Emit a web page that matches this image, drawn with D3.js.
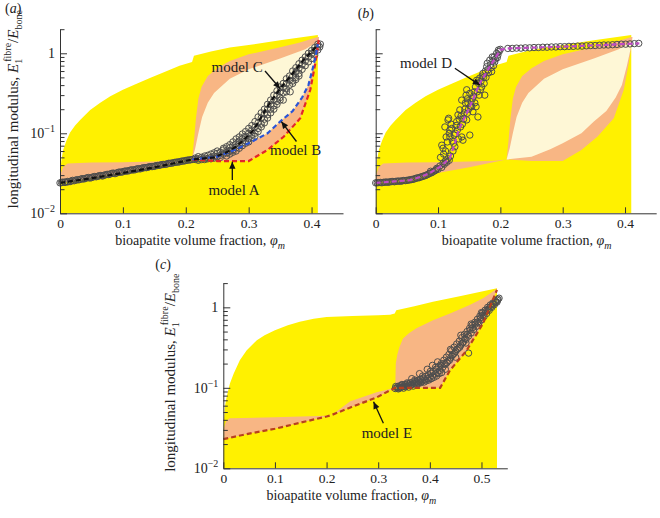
<!DOCTYPE html>
<html><head><meta charset="utf-8">
<script src="https://cdn.jsdelivr.net/npm/d3@7"></script>
<style>
body{margin:0;background:#fff}
svg{display:block}
text{font-family:"Liberation Serif","Times New Roman",serif;fill:#222}
</style>
</head><body>
<svg id="chart" width="660" height="518"></svg>
<script>
// ---------------- DATA ----------------
const xTicksAB = [0, 0.1, 0.2, 0.3, 0.4];
const xTicksC = [0, 0.1, 0.2, 0.3, 0.4, 0.5];
const yMajor = [0.01, 0.1, 1];
const yMajorLabels = [["10", "\u22122"], ["10", "\u22121"], ["1", ""]];
const yMinor = [0.02,0.03,0.04,0.05,0.06,0.07,0.08,0.09,0.2,0.3,0.4,0.5,0.6,0.7,0.8,0.9,2];

// panels (a),(b): bound regions
const yellowTopAB = [[0,0.03],[0.002,0.045],[0.005,0.062],[0.01,0.08],[0.016,0.102],[0.024,0.125],[0.032,0.147],[0.048,0.195],[0.064,0.24],[0.08,0.29],[0.1,0.35],[0.12,0.41],[0.143,0.49],[0.17,0.6],[0.19,0.7],[0.21,0.78],[0.213,0.93],[0.24,1.05],[0.27,1.18],[0.3,1.27],[0.35,1.45],[0.41,1.69]];
const orangeLowTopAB = [[0,0.03],[0.005,0.038],[0.012,0.042],[0.05,0.043],[0.1,0.0435],[0.15,0.0445],[0.19,0.0455],[0.21,0.047]];
const orangeLowBotAB = [[0,0.024],[0.05,0.0275],[0.1,0.032],[0.15,0.0375],[0.21,0.047]];
const orangeLensTopAB = [[0.21,0.047],[0.213,0.08],[0.216,0.15],[0.22,0.27],[0.225,0.38],[0.235,0.52],[0.25,0.65],[0.27,0.8],[0.3,0.97],[0.35,1.19],[0.38,1.35],[0.41,1.6]];
const creamTopAB = [[0.21,0.047],[0.215,0.065],[0.22,0.1],[0.226,0.16],[0.235,0.24],[0.245,0.32],[0.27,0.48],[0.3,0.63],[0.35,0.86],[0.39,1.12],[0.41,1.4]];
const modelA = [[0.21,0.047],[0.25,0.045],[0.3,0.045],[0.33,0.062],[0.356,0.091],[0.382,0.154],[0.398,0.35],[0.406,0.75],[0.41,1.2],[0.412,1.6]];
const modelB = [[0.21,0.047],[0.25,0.051],[0.28,0.063],[0.3,0.075],[0.33,0.1],[0.35,0.14],[0.37,0.19],[0.385,0.28],[0.395,0.4],[0.403,0.7],[0.408,1.05],[0.41,1.3]];
const modelC = [[0,0.024],[0.05,0.0275],[0.1,0.032],[0.15,0.0375],[0.21,0.047],[0.245,0.05],[0.265,0.058],[0.28,0.068],[0.295,0.087],[0.308,0.11],[0.32,0.16],[0.335,0.25],[0.35,0.36],[0.37,0.56],[0.387,0.82],[0.41,1.27]];
const modelD = [[0,0.024],[0.03,0.025],[0.055,0.026],[0.075,0.029],[0.087,0.032],[0.103,0.038],[0.119,0.049],[0.127,0.075],[0.133,0.11],[0.151,0.215],[0.167,0.42],[0.183,0.68],[0.2,1.1],[0.21,1.15],[0.3,1.21],[0.423,1.33]];

const pointsA = [[0,0.024],[0.004,0.0245],[0.008,0.0243],[0.012,0.025],[0.016,0.0249],[0.02,0.0258],[0.025,0.026],[0.03,0.0262],[0.035,0.0271],[0.04,0.0272],[0.045,0.028],[0.05,0.0279],[0.055,0.0288],[0.06,0.029],[0.065,0.0297],[0.07,0.0299],[0.075,0.0307],[0.08,0.031],[0.085,0.0318],[0.09,0.0319],[0.095,0.0328],[0.1,0.0331],[0.105,0.0338],[0.11,0.0342],[0.115,0.0349],[0.12,0.0352],[0.125,0.0361],[0.13,0.0365],[0.135,0.0372],[0.14,0.0377],[0.145,0.0384],[0.15,0.0386],[0.155,0.0396],[0.16,0.0402],[0.165,0.0408],[0.17,0.0413],[0.175,0.0422],[0.18,0.0428],[0.185,0.0436],[0.19,0.044],[0.195,0.045],[0.2,0.0457],[0.205,0.0463],[0.21,0.047],
[0.0025,0.0242],[0.0075,0.0246],[0.0125,0.0247],[0.0175,0.0253],[0.0225,0.0255],[0.0275,0.0263],[0.0325,0.0266],[0.0375,0.0268],[0.0425,0.0277],[0.0475,0.0276],[0.0525,0.0285],[0.0575,0.0286],[0.0625,0.0295],[0.0675,0.0292],[0.0725,0.0303],[0.0775,0.0305],[0.0825,0.0316],[0.0875,0.0313],[0.0925,0.0325],[0.0975,0.0326],[0.1025,0.0336],[0.1075,0.0337],[0.1125,0.0348],[0.1175,0.0348],[0.1225,0.0359],[0.1275,0.0359],[0.1325,0.0371],[0.1375,0.0372],[0.1425,0.0383],[0.1475,0.0384],[0.1525,0.0394],[0.1575,0.0397],[0.1625,0.0407],[0.1675,0.0409],[0.1725,0.0421],[0.1775,0.0423],[0.1825,0.0433],[0.1875,0.0437],[0.1925,0.0447],[0.1975,0.0451],[0.2025,0.0462],[0.2075,0.0466],
[0.215,0.047],[0.215,0.049],[0.22,0.048],[0.22,0.051],[0.22,0.046],[0.225,0.047],[0.225,0.05],[0.23,0.049],[0.23,0.052],[0.23,0.047],[0.235,0.048],[0.235,0.053],[0.24,0.05],[0.24,0.055],[0.24,0.048],[0.245,0.052],[0.245,0.049],[0.245,0.057],[0.25,0.051],[0.25,0.056],[0.25,0.06],[0.255,0.053],[0.255,0.058],[0.255,0.05],[0.26,0.055],[0.26,0.062],[0.26,0.065],[0.265,0.057],[0.265,0.06],[0.265,0.068],[0.265,0.052],[0.27,0.06],[0.27,0.066],[0.27,0.072],[0.27,0.055],[0.275,0.062],[0.275,0.07],[0.275,0.078],[0.275,0.058],[0.28,0.066],[0.28,0.074],[0.28,0.085],[0.28,0.06],[0.285,0.07],[0.285,0.08],[0.285,0.09],[0.285,0.065],[0.29,0.076],[0.29,0.086],[0.29,0.098],[0.29,0.07],[0.295,0.08],[0.295,0.092],[0.295,0.105],[0.295,0.075],[0.3,0.085],[0.3,0.1],[0.3,0.115],[0.3,0.078],[0.305,0.095],[0.305,0.11],[0.305,0.125],[0.305,0.088],[0.31,0.1],[0.31,0.12],[0.31,0.14],[0.31,0.092],[0.315,0.115],[0.315,0.135],[0.315,0.16],[0.315,0.105],[0.32,0.13],[0.32,0.155],[0.32,0.18],[0.32,0.12],[0.325,0.15],[0.325,0.175],[0.325,0.2],[0.325,0.135],[0.33,0.17],[0.33,0.2],[0.33,0.23],[0.33,0.155],[0.335,0.2],[0.335,0.23],[0.335,0.26],[0.335,0.18],[0.34,0.22],[0.34,0.26],[0.34,0.3],[0.34,0.2],[0.345,0.25],[0.345,0.3],[0.345,0.34],[0.345,0.23],[0.35,0.28],[0.35,0.33],[0.35,0.38],[0.35,0.26],[0.355,0.32],[0.355,0.37],[0.355,0.42],[0.355,0.26],[0.36,0.36],[0.36,0.42],[0.36,0.48],[0.36,0.33],[0.365,0.4],[0.365,0.46],[0.365,0.52],[0.366,0.33],[0.37,0.45],[0.37,0.52],[0.37,0.6],[0.37,0.42],[0.375,0.5],[0.375,0.58],[0.375,0.66],[0.375,0.47],[0.38,0.56],[0.38,0.65],[0.38,0.74],[0.38,0.52],[0.385,0.63],[0.385,0.72],[0.385,0.82],[0.39,0.7],[0.39,0.8],[0.39,0.9],[0.395,0.78],[0.395,0.9],[0.395,1.0],[0.4,0.86],[0.4,0.98],[0.4,1.08],[0.405,0.95],[0.405,1.08],[0.405,1.18],[0.41,1.1],[0.41,1.22],[0.41,1.3],[0.413,1.2],[0.414,1.3]];

const pointsB = [[0,0.024],[0.005,0.0242],[0.01,0.0241],[0.015,0.0245],[0.02,0.0244],[0.025,0.0249],[0.03,0.0248],[0.035,0.0252],[0.04,0.0251],[0.045,0.0257],[0.05,0.0258],[0.055,0.0262],[0.06,0.0266],[0.065,0.0275],[0.07,0.0279],[0.075,0.0288],[0.08,0.0297],[0.085,0.031],[0.088,0.0335],[0.09,0.0322],[0.095,0.034],[0.098,0.0365],[0.1,0.0355],[0.103,0.039],[0.106,0.0375],[0.108,0.042],[0.11,0.041],[0.112,0.045],[0.114,0.0435],[0.116,0.048],[0.118,0.046],[0.12,0.052],
[0.0025,0.0241],[0.0075,0.0243],[0.0125,0.0244],[0.0175,0.0246],[0.0225,0.0247],[0.0275,0.025],[0.0325,0.0251],[0.0375,0.0253],[0.0425,0.0255],[0.0475,0.0256],[0.0525,0.026],[0.0575,0.0264],[0.0625,0.027],[0.0675,0.0277],[0.0725,0.0285],[0.0775,0.0293],[0.0825,0.0303],[0.0875,0.0318],[0.0925,0.0333],[0.0965,0.035],
[0.106,0.071],[0.108,0.065],[0.111,0.12],[0.113,0.09],[0.116,0.147],[0.117,0.154],[0.119,0.09],[0.119,0.11],[0.122,0.115],[0.124,0.06],[0.125,0.075],[0.127,0.068],[0.128,0.1],[0.13,0.14],[0.132,0.17],[0.133,0.085],[0.135,0.196],[0.136,0.12],[0.138,0.26],[0.138,0.09],[0.14,0.082],[0.141,0.15],[0.143,0.2],[0.145,0.3],[0.146,0.35],[0.147,0.178],[0.146,0.147],[0.148,0.24],[0.151,0.095],[0.151,0.316],[0.152,0.22],[0.154,0.215],[0.155,0.27],[0.156,0.186],[0.158,0.33],[0.16,0.38],[0.161,0.215],[0.162,0.46],[0.164,0.16],[0.165,0.42],[0.167,0.49],[0.168,0.35],[0.17,0.38],[0.172,0.56],[0.173,0.5],[0.175,0.3],[0.176,0.6],[0.178,0.68],[0.18,0.62],[0.183,0.82],[0.184,0.72],[0.186,0.59],[0.188,0.8],[0.19,0.9],[0.192,0.85],[0.194,1.0],[0.196,0.95],[0.198,1.05],[0.2,1.12],
[0.104,0.05],[0.109,0.055],[0.112,0.06],[0.115,0.078],[0.118,0.1],[0.121,0.13],[0.123,0.08],[0.126,0.095],[0.129,0.125],[0.131,0.11],[0.134,0.15],[0.137,0.165],[0.139,0.13],[0.142,0.18],[0.144,0.24],[0.147,0.27],[0.149,0.2],[0.153,0.25],[0.157,0.29],[0.159,0.24],[0.163,0.33],[0.166,0.3],[0.169,0.45],[0.171,0.52],[0.174,0.42],[0.177,0.5],[0.179,0.75],[0.181,0.57],[0.185,0.66],[0.187,0.9],[0.189,0.7],[0.191,0.78],[0.195,0.88],[0.197,1.1],
[0.212,1.15],[0.219,1.15],[0.226,1.16],[0.233,1.16],[0.24,1.17],[0.247,1.17],[0.254,1.18],[0.261,1.18],[0.268,1.19],[0.275,1.19],[0.282,1.2],[0.289,1.2],[0.296,1.21],[0.303,1.21],[0.31,1.22],[0.317,1.22],[0.324,1.23],[0.331,1.23],[0.338,1.24],[0.345,1.25],[0.352,1.25],[0.359,1.26],[0.366,1.27],[0.373,1.27],[0.38,1.28],[0.387,1.29],[0.394,1.3],[0.401,1.3],[0.408,1.31],[0.415,1.32],[0.422,1.33]];

// panel (c)
const yellowTopC = [[0,0.03],[0.003,0.058],[0.007,0.08],[0.013,0.114],[0.02,0.15],[0.032,0.22],[0.045,0.29],[0.065,0.39],[0.08,0.45],[0.1,0.52],[0.125,0.6],[0.148,0.66],[0.175,0.72],[0.2,0.76],[0.25,0.78],[0.3,0.8],[0.323,0.81],[0.332,0.84],[0.335,0.92],[0.37,1.03],[0.406,1.17],[0.46,1.38],[0.53,1.73]];
const orangeLowTopC = [[0,0.03],[0.005,0.038],[0.012,0.042],[0.1,0.043],[0.2,0.045],[0.21,0.046],[0.246,0.068],[0.297,0.088],[0.333,0.1]];
const orangeLensTopC = [[0.333,0.1],[0.334,0.2],[0.337,0.26],[0.341,0.32],[0.348,0.41],[0.36,0.48],[0.374,0.55],[0.406,0.69],[0.439,0.84],[0.477,1.07],[0.503,1.3],[0.53,1.7]];
const modelE = [[0,0.023],[0.05,0.027],[0.1,0.031],[0.15,0.037],[0.2,0.044],[0.21,0.046],[0.246,0.057],[0.297,0.076],[0.323,0.093],[0.333,0.1],[0.38,0.1],[0.42,0.1],[0.439,0.165],[0.471,0.29],[0.503,0.63],[0.53,1.65]];
const pointsC = [[0.333,0.098],[0.336,0.1],[0.338,0.104],[0.34,0.099],[0.342,0.106],[0.345,0.102],[0.347,0.108],[0.35,0.104],[0.352,0.11],[0.355,0.106],[0.357,0.112],[0.36,0.108],[0.362,0.115],[0.365,0.11],[0.365,0.13],[0.367,0.118],[0.37,0.113],[0.372,0.12],[0.375,0.116],[0.377,0.124],[0.38,0.119],[0.38,0.15],[0.382,0.128],[0.385,0.122],[0.387,0.132],[0.39,0.126],[0.392,0.138],[0.395,0.13],[0.395,0.17],[0.397,0.145],[0.4,0.135],[0.402,0.152],[0.405,0.14],[0.405,0.19],[0.407,0.16],[0.41,0.148],[0.412,0.17],[0.415,0.155],[0.415,0.21],[0.417,0.185],[0.42,0.165],[0.422,0.2],[0.425,0.18],[0.427,0.22],[0.43,0.195],[0.43,0.17],[0.432,0.24],[0.435,0.215],[0.437,0.26],[0.44,0.235],[0.44,0.3],[0.442,0.29],[0.445,0.26],[0.447,0.32],[0.45,0.285],[0.45,0.24],[0.452,0.35],[0.455,0.31],[0.457,0.38],[0.46,0.34],[0.46,0.45],[0.462,0.42],[0.465,0.37],[0.467,0.46],[0.47,0.4],[0.47,0.36],[0.472,0.5],[0.475,0.44],[0.475,0.27],[0.477,0.55],[0.48,0.48],[0.48,0.62],[0.482,0.6],[0.485,0.53],[0.487,0.65],[0.49,0.58],[0.492,0.71],[0.495,0.64],[0.497,0.78],[0.5,0.7],[0.5,0.86],[0.502,0.85],[0.505,0.77],[0.507,0.92],[0.51,0.84],[0.512,1.0],[0.515,0.92],[0.517,1.07],[0.52,1.0],[0.522,1.13],[0.525,1.08],[0.527,1.2],[0.53,1.16],[0.532,1.26],[0.534,1.3],
[0.334,0.104],[0.339,0.097],[0.343,0.1],[0.346,0.11],[0.349,0.099],[0.353,0.103],[0.356,0.115],[0.359,0.102],[0.363,0.107],[0.368,0.105],[0.371,0.125],[0.374,0.11],[0.378,0.113],[0.383,0.116],[0.386,0.14],[0.389,0.118],[0.393,0.122],[0.398,0.125],[0.401,0.16],[0.403,0.13],[0.408,0.135],[0.411,0.18],[0.413,0.14],[0.418,0.15],[0.421,0.19],[0.423,0.155],[0.428,0.2],[0.433,0.205],[0.438,0.22],[0.443,0.25],[0.448,0.27],[0.453,0.3],[0.458,0.32],[0.463,0.36],[0.468,0.41],[0.473,0.46],[0.478,0.52],[0.483,0.56],[0.488,0.62],[0.493,0.66],[0.498,0.74],[0.503,0.8],[0.508,0.88],[0.513,0.95],[0.518,1.02],[0.523,1.1],[0.528,1.16],[0.531,1.22]];

// annotations: [label, textPhi, textV, arrowFromPhi, arrowFromV, arrowToPhi, arrowToV]
const notesA = [["model C",0.241,0.58,0.326,0.6,0.35,0.363],["model B",0.334,0.0535,0.376,0.079,0.352,0.14],["model A",0.236,0.0169,0.274,0.026,0.274,0.044]];
const notesB = [["model D",0.039,0.655,0.127,0.65,0.167,0.4]];
const notesC = [["model E",0.268,0.0238,0.31,0.0362,0.291,0.067]];

// ---------------- STYLE ----------------
const YELLOW = "#FFF100", ORANGE = "#F8B684", CREAM = "#FEF7D6";
const svg = d3.select("#chart");
const defs = svg.append("defs");
defs.append("marker").attr("id","arr").attr("viewBox","0 0 10 10").attr("refX",10).attr("refY",5)
  .attr("markerWidth",8).attr("markerHeight",7).attr("markerUnits","userSpaceOnUse").attr("orient","auto")
  .append("path").attr("d","M0,0.5 L10,5 L0,9.5 Z").attr("fill","#111");

function drawPanel(p){
  const g = svg.append("g").attr("transform",`translate(${p.left},${p.top})`);
  const x = d3.scaleLinear().domain([0,p.xmax]).range([0,p.w]);
  const y = d3.scaleLog().domain([0.01,2]).range([p.h,0]);
  const cid = "clip"+p.id;
  defs.append("clipPath").attr("id",cid).append("rect").attr("width",p.w).attr("height",p.h);
  const line = d3.line().x(d=>x(d[0])).y(d=>y(d[1]));
  const poly = (top,bot)=>line(top.concat(bot.slice().reverse()))+"Z";
  const bg = g.append("g").attr("clip-path",`url(#${cid})`);
  bg.append("path").attr("d",poly(p.yellow,[[0,0.01],[p.edge,0.01]])).attr("fill",YELLOW);
  p.orange.forEach(r=>bg.append("path").attr("d",poly(r[0],r[1])).attr("fill",ORANGE));
  p.cream.forEach(r=>bg.append("path").attr("d",poly(r[0],r[1])).attr("fill",CREAM));

  g.append("g").selectAll("circle").data(p.pts).join("circle")
    .attr("cx",d=>x(d[0])).attr("cy",d=>y(d[1])).attr("r",3.2)
    .attr("fill","none").attr("stroke","#4e4e4e").attr("stroke-width",1);

  p.models.forEach(m=>g.append("path").attr("d",line(m[0])).attr("fill","none")
    .attr("stroke",m[1]).attr("stroke-width",2.2).attr("stroke-dasharray","5,3"));

  // axes
  const ax = g.append("g").attr("color","#333");
  ax.append("g").call(d3.axisLeft(y).tickValues(yMajor).tickSize(-7).tickSizeOuter(0).tickFormat(""));
  ax.append("g").call(d3.axisLeft(y).tickValues(yMinor).tickSize(-4.5).tickSizeOuter(0).tickFormat(""))
    .select(".domain").remove();
  const xa = ax.append("g").attr("transform",`translate(0,${p.h})`)
    .call(d3.axisBottom(x).tickValues(p.xticks).tickSize(-6).tickSizeOuter(0).tickPadding(5)
      .tickFormat(d=>d===0?"0":d3.format(".1f")(d)));
  xa.attr("font-family",null).attr("font-size",null);
  xa.selectAll("text").style("font-size","13.5px").attr("fill","#222");
  ax.selectAll(".tick line, .domain").attr("stroke-width",1);

  if(p.ylabels){
    yMajor.forEach((v,i)=>{
      const t = g.append("text").attr("x",-5).attr("y",y(v)).attr("dy","0.35em")
        .attr("text-anchor","end").style("font-size","14px");
      t.append("tspan").text(yMajorLabels[i][0]);
      if(yMajorLabels[i][1]) t.append("tspan").attr("dy",-6).style("font-size","10px").text(yMajorLabels[i][1]);
    });
    const yt = g.append("text").attr("text-anchor","middle").style("font-size","15px")
      .attr("transform",`translate(${p.ytitleX},${p.h/2 + p.ytitleDy}) rotate(-90)`);
    yt.append("tspan").text("longitudinal modulus, ");
    yt.append("tspan").style("font-style","italic").text("E");
    yt.append("tspan").attr("dy",4).style("font-size","10px").text("1");
    yt.append("tspan").attr("dy",-11).attr("dx",-3).style("font-size","10px").text("fibre");
    yt.append("tspan").attr("dy",7).text("/");
    yt.append("tspan").style("font-style","italic").text("E");
    yt.append("tspan").attr("dy",4).style("font-size","10px").text("bone");
  }
  // x title
  const xt = g.append("text").attr("text-anchor","middle").attr("x",p.xtitleX).attr("y",p.h+32).style("font-size","14px");
  xt.append("tspan").text("bioapatite volume fraction, ");
  xt.append("tspan").style("font-style","italic").text("\u03c6");
  xt.append("tspan").attr("dy",4).style("font-style","italic").style("font-size","10px").text("m");
  // panel letter
  const pl = g.append("text").attr("x",p.letterX).attr("y",p.letterY).style("font-size","14px");
  pl.append("tspan").text("(");
  pl.append("tspan").style("font-style","italic").text(p.id);
  pl.append("tspan").text(")");
  // notes
  p.notes.forEach(n=>{
    g.append("line").attr("x1",x(n[3])).attr("y1",y(n[4])).attr("x2",x(n[5])).attr("y2",y(n[6]))
      .attr("stroke","#111").attr("stroke-width",1.3).attr("marker-end","url(#arr)");
    g.append("text").attr("x",x(n[1])).attr("y",y(n[2])).style("font-size","15px").text(n[0]);
  });
}

drawPanel({id:"a",left:60,top:29.2,w:283,h:184.1,xmax:0.45,edge:0.41,xticks:xTicksAB,
  yellow:yellowTopAB,
  orange:[[orangeLowTopAB,orangeLowBotAB],[orangeLensTopAB,modelA]],
  cream:[[creamTopAB,modelB]],
  pts:pointsA,
  models:[[modelA,"#E3262A"],[modelB,"#2B55D6"],[modelC,"#111111"]],
  ylabels:true,ytitleX:-42,ytitleDy:-12,xtitleX:140,letterX:-55,letterY:-16,notes:notesA});
drawPanel({id:"b",left:375.7,top:29.2,w:280.5,h:184.1,xmax:0.45,edge:0.41,xticks:xTicksAB,
  yellow:yellowTopAB,
  orange:[[orangeLowTopAB,orangeLowBotAB],[orangeLensTopAB,modelA]],
  cream:[[creamTopAB,modelB]],
  pts:pointsB,
  models:[[modelD,"#C04AC6"]],
  ylabels:false,xtitleX:151,letterX:-18,letterY:-11,notes:notesB});
drawPanel({id:"c",left:223.3,top:283.1,w:284,h:185.2,xmax:0.55,edge:0.53,xticks:xTicksC,
  yellow:yellowTopC,
  orange:[[orangeLowTopC,modelE.filter(d=>d[0]<=0.333)],[orangeLensTopC,modelE.filter(d=>d[0]>=0.333)]],
  cream:[],
  pts:pointsC,
  models:[[modelE,"#B8401E"]],
  ylabels:true,ytitleX:-48,ytitleDy:-3,xtitleX:128,letterX:-68,letterY:-14,notes:notesC});
</script>
</body></html>
